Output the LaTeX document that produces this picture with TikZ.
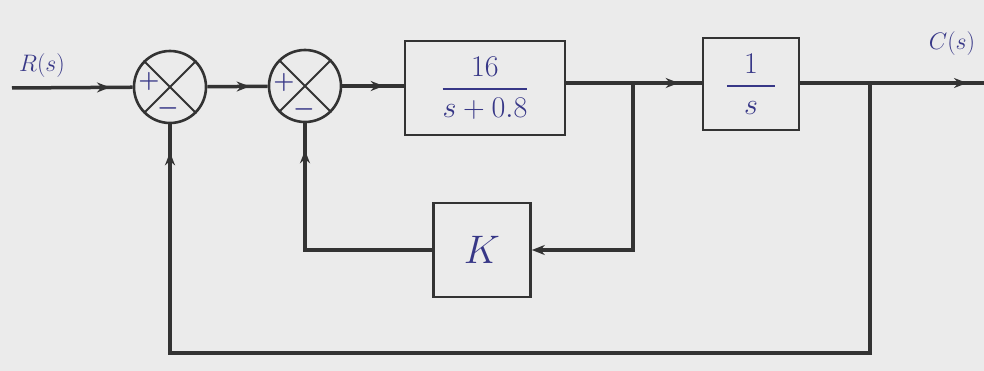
\documentclass[tikz,border=0pt]{standalone}
\usetikzlibrary{decorations.markings,arrows.meta}
\definecolor{ink}{RGB}{55,55,135}
\begin{document}
\begin{tikzpicture}[x=1pt,y=-1pt,
  line/.style={line width=3.5pt, draw=black!80, line join=miter},
  blk/.style={draw=black!80, line width=2.6pt, rectangle, inner sep=0pt},
  sumnode/.style={draw=black!80, line width=2.6pt, circle, minimum size=72pt, inner sep=0pt},
  hand/.style={text=ink, inner sep=0pt},
  sgn/.style={text=ink, inner sep=0pt},
  tipat/.style={postaction={decorate, decoration={markings,
      mark=at position #1 with {\arrow{Stealth[length=13pt,width=10pt]}}}}},
]
\fill[black!8] (0,0) rectangle (984,371);
\useasboundingbox (0,0) rectangle (984,371);

% blocks
\node[sumnode] (s1) at (170,87) {};
\node[sumnode] (s2) at (305,86) {};
\node[blk, minimum width=160pt, minimum height=94pt] (g1) at (485,88)
  {\color{ink}\scalebox{1.45}{\huge$\displaystyle{16\above1.3pt s+0.8}$}};
\node[blk, minimum width=96pt, minimum height=92pt] (g2) at (751,84)
  {\color{ink}\scalebox{1.45}{\huge$\displaystyle{\makebox[1.6em]{$1$}\above1.5pt s}$}};
\node[blk, minimum width=97pt, minimum height=94pt] (k) at (482,250)
  {\color{ink}\scalebox{1.6}{\Huge$K$}};

% crosses in summing junctions
\foreach \s in {s1,s2}{
  \draw[black!80, line width=2pt] (\s.45) -- (\s.225) (\s.135) -- (\s.315);
}
\node[sgn] (p1) at (149,81) {\scalebox{1.4}{\LARGE\boldmath$+$}};
\node[sgn] (m1) at (168,108) {\scalebox{1.4}{\LARGE\boldmath$-$}};
\node[sgn] (p2) at (284,82) {\scalebox{1.4}{\LARGE\boldmath$+$}};
\node[sgn] (m2) at (304,109) {\scalebox{1.4}{\LARGE\boldmath$-$}};

% labels
\node[hand] (rl) at (42,66) {\scalebox{1.15}{\huge$R(s)$}};
\node[hand] (cl) at (952,44) {\scalebox{1.15}{\huge$C(s)$}};

% coordinates
\coordinate (rin) at (12,88);
\coordinate (cout) at (984,83);
\coordinate (b1) at (633,83);
\coordinate (b1d) at (633,250);
\coordinate (kl) at (305,250);
\coordinate (b2) at (870,83);
\coordinate (b2d) at (870,353);
\coordinate (bl) at (170,353);

% forward path
\draw[line, tipat=98pt] (rin) -- (s1);
\draw[line, tipat=-18pt] (s1) -- (s2);
\draw[line, tipat=-20pt] (s2) -- (g1.west |- s2);
\draw[line] (g1.east |- b1) -- (b1);
\draw[line, tipat=-23pt] (b1) -- (g2.west |- b1);
\draw[line, tipat=-17pt] (g2.east |- cout) -- (cout);

% inner feedback
\draw[line, -{Stealth[length=13pt,width=10pt]}] (b1) -- (b1d) -- (k.east |- b1d);
\draw[line, tipat=-27pt] (k.west |- kl) -- (kl) -- (s2.south);

% outer feedback
\draw[line, tipat=-28pt] (b2) -- (b2d) -- (bl) -- (s1.south);
\end{tikzpicture}
\end{document}
